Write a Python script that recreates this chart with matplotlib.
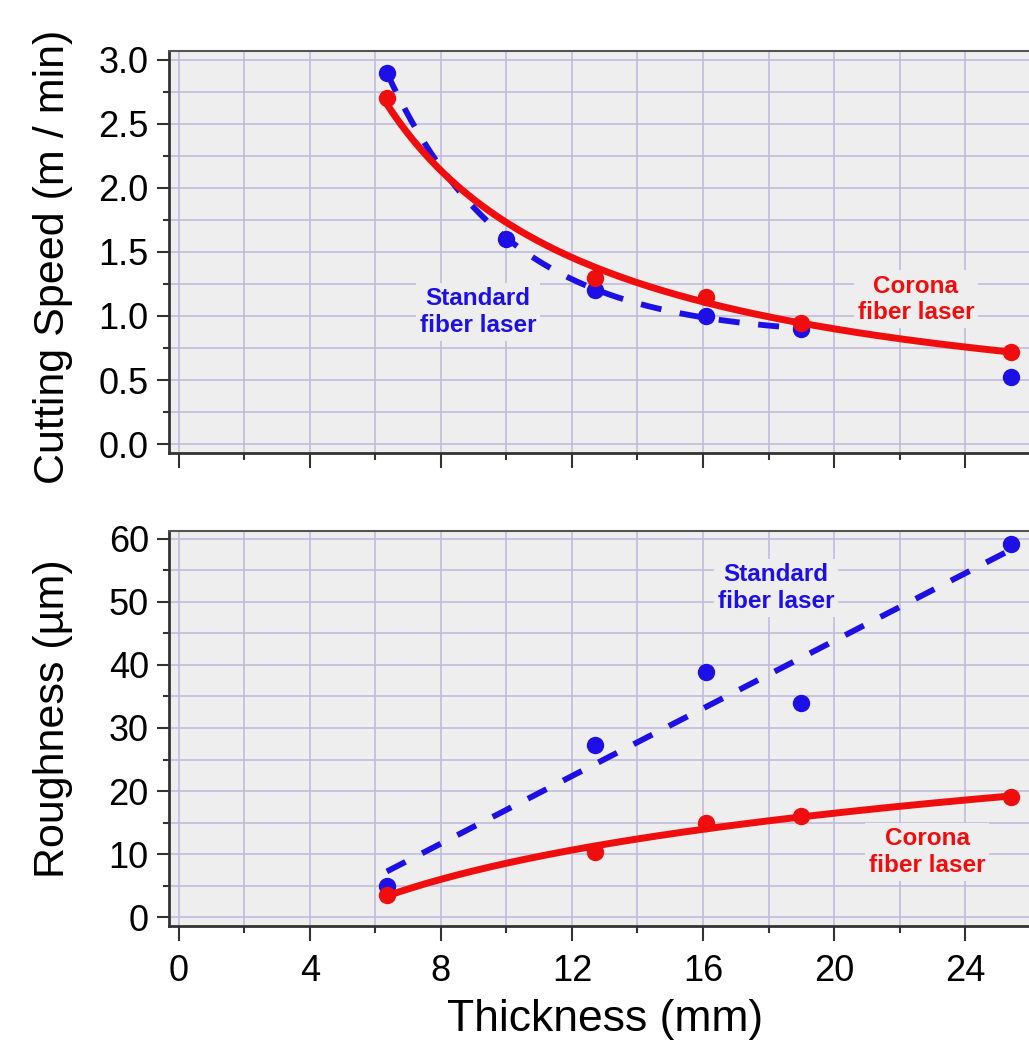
import numpy as np
import matplotlib
matplotlib.use("Agg")
import matplotlib.pyplot as plt
from matplotlib.ticker import MultipleLocator, FormatStrFormatter

plt.rcParams['font.family'] = ['Liberation Sans', 'DejaVu Sans']

# ---------------- data ----------------
thickness = [6.35, 10.0, 12.7, 16.1, 19.0, 25.4]

speed_standard = [2.90, 1.60, 1.20, 1.00, 0.90, 0.52]
speed_corona_x = [6.35, 12.7, 16.1, 19.0, 25.4]
speed_corona = [2.70, 1.30, 1.15, 0.945, 0.72]

rough_x = [6.35, 12.7, 16.1, 19.0, 25.4]
rough_standard = [4.9, 27.3, 38.9, 34.0, 59.2]
rough_corona = [3.5, 10.3, 14.9, 16.0, 19.0]

x_ticks = [0, 4, 8, 12, 16, 20, 24]
speed_ticks = [0.0, 0.5, 1.0, 1.5, 2.0, 2.5, 3.0]
rough_ticks = [0, 10, 20, 30, 40, 50, 60]

RED = '#f00d0d'
BLUE = '#1c10e6'
FACE = '#eeeeee'
GRID = '#bfbcdc'


# ---------------- fits (computed from the data) ----------------
def power_fit(x, y):
    b, lna = np.polyfit(np.log(x), np.log(y), 1)
    return lambda t: np.exp(lna) * t ** b


def exp_offset_fit(x, y):
    x = np.asarray(x); y = np.asarray(y)
    best = None
    for c in np.linspace(0, y.min() - 1e-3, 800):
        k, lna = np.polyfit(x, np.log(y - c), 1)
        pred = c + np.exp(lna + k * x)
        sse = np.sum((pred - y) ** 2)
        if best is None or sse < best[0]:
            best = (sse, c, k, lna)
    _, c, k, lna = best
    return lambda t: c + np.exp(lna + k * t)


def log_fit(x, y):
    b, a = np.polyfit(np.log(x), y, 1)
    return lambda t: a + b * np.log(t)


def lin_fit(x, y):
    m, c = np.polyfit(x, y, 1)
    return lambda t: m * t + c


fit_speed_std = exp_offset_fit(thickness[:5], speed_standard[:5])
fit_speed_cor = power_fit(speed_corona_x, speed_corona)
fit_rough_std = lin_fit(rough_x, rough_standard)
fit_rough_cor = log_fit(rough_x, rough_corona)

t_std_speed = np.linspace(thickness[0], thickness[4], 200)
t_full = np.linspace(thickness[0], thickness[-1], 200)

# ---------------- figure ----------------
fig = plt.figure(figsize=(10.29, 10.44), dpi=100)
ax1 = fig.add_axes([0.1642, 0.5661, 0.8358, 0.3851])
ax2 = fig.add_axes([0.1642, 0.1130, 0.8358, 0.3784])

LW_R = 5.0
LW_B = 4.2
MS = 11.5
DASH = (3.6, 3.2)


def style(ax):
    ax.set_facecolor(FACE)
    ax.set_xlim(-0.3, 25.95)
    ax.grid(True, which='both', color=GRID, linewidth=1.2, zorder=0)
    ax.set_axisbelow(True)
    for s in ['left', 'bottom']:
        ax.spines[s].set_color('#333333')
        ax.spines[s].set_linewidth(2.0)
    ax.spines['top'].set_color('#555555')
    ax.spines['top'].set_linewidth(1.5)
    ax.spines['right'].set_visible(False)
    ax.tick_params(axis='y', which='major', length=8.5, width=1.5,
                   labelsize=26, pad=6, color='#333333')
    ax.tick_params(axis='y', which='minor', length=4.5, width=1.5, color='#333333')
    ax.tick_params(axis='x', which='major', length=11, width=1.5,
                   labelsize=26, pad=9, color='#333333')
    ax.tick_params(axis='x', which='minor', length=5, width=1.5, color='#333333')
    ax.tick_params(top=False, right=False, which='both')


box = dict(facecolor=FACE, edgecolor='none', pad=3)
TXT = dict(fontsize=17.5, fontweight='bold', ha='center', va='center',
           linespacing=1.2, bbox=box, zorder=2)

# ---- top panel ----
style(ax1)
ax1.set_ylim(-0.07, 3.07)
ax1.set_xticks(x_ticks)
ax1.set_yticks(speed_ticks)
ax1.yaxis.set_minor_locator(MultipleLocator(0.25))
ax1.xaxis.set_minor_locator(MultipleLocator(2))
ax1.yaxis.set_major_formatter(FormatStrFormatter('%.1f'))
ax1.tick_params(axis='x', labelbottom=False)

ax1.plot(t_std_speed, fit_speed_std(t_std_speed), color=BLUE, lw=LW_B,
         dashes=DASH, dash_capstyle='butt', zorder=3)
ax1.plot(thickness, speed_standard, 'o', color=BLUE, ms=MS, zorder=4)
ax1.plot(t_full, fit_speed_cor(t_full), color=RED, lw=LW_R, zorder=5)
ax1.plot(speed_corona_x, speed_corona, 'o', color=RED, ms=MS, zorder=6)

ax1.text(9.13, 1.03, 'Standard\nfiber laser', color=BLUE, **TXT)
ax1.text(22.5, 1.13, 'Corona\nfiber laser', color=RED, **TXT)
ax1.set_ylabel('Cutting Speed (m / min)', fontsize=31)
ax1.yaxis.set_label_coords(-0.112, 0.487)

# ---- bottom panel ----
style(ax2)
ax2.set_ylim(-1.43, 61.27)
ax2.set_xticks(x_ticks)
ax2.set_yticks(rough_ticks)
ax2.yaxis.set_minor_locator(MultipleLocator(5))
ax2.xaxis.set_minor_locator(MultipleLocator(2))

ax2.plot(t_full, fit_rough_std(t_full), color=BLUE, lw=LW_B,
         dashes=DASH, dash_capstyle='butt', zorder=3)
ax2.plot(rough_x, rough_standard, 'o', color=BLUE, ms=MS, zorder=4)
ax2.plot(t_full, fit_rough_cor(t_full), color=RED, lw=LW_R, zorder=5)
ax2.plot(rough_x, rough_corona, 'o', color=RED, ms=MS, zorder=6)

ax2.text(18.23, 52.2, 'Standard\nfiber laser', color=BLUE, **TXT)
ax2.text(22.84, 10.3, 'Corona\nfiber laser', color=RED, **TXT)
ax2.set_ylabel('Roughness (\u00b5m)', fontsize=31)
ax2.yaxis.set_label_coords(-0.112, 0.525)
ax2.set_xlabel('Thickness (mm)', fontsize=32)
ax2.xaxis.set_label_coords(0.507, -0.185)

fig.savefig('out.png', dpi=100, facecolor='white')
